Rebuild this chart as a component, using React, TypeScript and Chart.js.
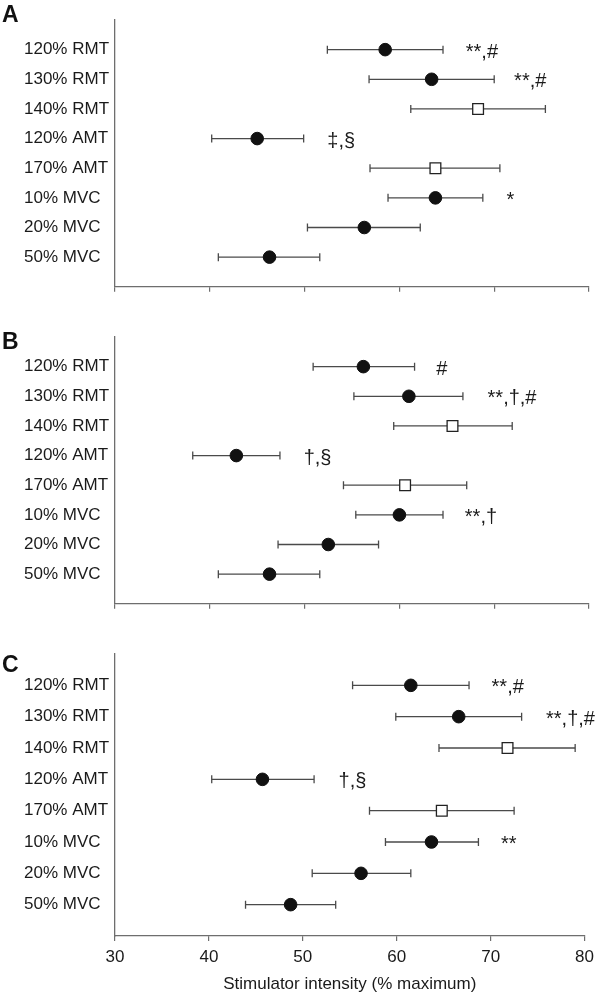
import React, { useEffect, useRef } from "react";
import { Chart, registerables } from "chart.js";

Chart.register(...registerables);

// ---------- data ----------
const categories = ["120% RMT", "130% RMT", "140% RMT", "120% AMT", "170% AMT", "10% MVC", "20% MVC", "50% MVC"];
const openSquareRows = [false, false, true, false, true, false, false, false];
const xTickValues = [30, 40, 50, 60, 70, 80];
const xTitle = "Stimulator intensity (% maximum)";
const panelLetters = ["A", "B", "C"];

const meanA = [58.5, 63.4, 68.3, 45.0, 63.8, 63.8, 56.3, 46.3];
const lowA = [52.4, 56.8, 61.2, 40.2, 56.9, 58.8, 50.3, 40.9];
const highA = [64.6, 70.0, 75.4, 49.9, 70.6, 68.8, 62.2, 51.6];
const noteTextA = ["**,#", "**,#", "‡,§", "*"];
const noteRowA = [0, 1, 3, 5];
const noteXA = [67.0, 72.1, 52.4, 71.3];

const meanB = [56.2, 61.0, 65.6, 42.8, 60.6, 60.0, 52.5, 46.3];
const lowB = [50.9, 55.2, 59.4, 38.2, 54.1, 55.4, 47.2, 40.9];
const highB = [61.6, 66.7, 71.9, 47.4, 67.1, 64.6, 57.8, 51.6];
const noteTextB = ["#", "**,†,#", "†,§", "**,†"];
const noteRowB = [0, 1, 3, 5];
const noteXB = [63.9, 69.3, 49.9, 66.9];

const meanC = [61.5, 66.6, 71.8, 45.7, 64.8, 63.7, 56.2, 48.7];
const lowC = [55.3, 59.9, 64.5, 40.3, 57.1, 58.8, 51.0, 43.9];
const highC = [67.7, 73.3, 79.0, 51.2, 72.5, 68.7, 61.5, 53.5];
const noteTextC = ["**,#", "**,†,#", "†,§", "**"];
const noteRowC = [0, 1, 3, 5];
const noteXC = [70.1, 75.9, 53.8, 71.1];

// ---------- styles ----------
const FONT = "'Liberation Sans', Arial, Helvetica, sans-serif";
const TEXT = "#1a1a1a";
const AXIS = "#6e6e6e";
const BAR = "#4a4a4a";

type PanelProps = {
  mean: number[];
  low: number[];
  high: number[];
  noteText: string[];
  noteRow: number[];
  noteX: number[];
  showX: boolean;
  top: number;
  height: number;
  padTop: number;
  axisH: number;
};

function Panel(p: PanelProps) {
  const ref = useRef<HTMLCanvasElement>(null);
  useEffect(() => {
    if (!ref.current) return;
    const rowY = (i: number) => i + 1;

    const errLines: any[] = categories.map((_, i) => ({
      type: "line",
      showLine: true,
      data: [
        { x: p.low[i], y: rowY(i) },
        { x: p.high[i], y: rowY(i) },
      ],
      borderColor: BAR,
      borderWidth: 1.3,
      pointRadius: 0,
      fill: false,
      order: 3,
    }));

    const caps: any = {
      type: "scatter",
      data: categories.flatMap((_, i) => [
        { x: p.low[i], y: rowY(i) },
        { x: p.high[i], y: rowY(i) },
      ]),
      pointStyle: "line",
      rotation: 90,
      pointRadius: 4,
      borderColor: BAR,
      borderWidth: 1.3,
      order: 2,
    };

    const circles: any = {
      type: "scatter",
      data: categories
        .map((_, i) => (openSquareRows[i] ? null : { x: p.mean[i], y: rowY(i) }))
        .filter((d) => d !== null),
      pointStyle: "circle",
      pointRadius: 6.3,
      backgroundColor: "#111",
      borderColor: "#111",
      borderWidth: 1,
      order: 1,
    };

    const squares: any = {
      type: "scatter",
      data: categories
        .map((_, i) => (openSquareRows[i] ? { x: p.mean[i], y: rowY(i) } : null))
        .filter((d) => d !== null),
      pointStyle: "rect",
      pointRadius: 7.6,
      backgroundColor: "#ffffff",
      borderColor: "#222",
      borderWidth: 1.3,
      order: 1,
    };

    const notesPlugin = {
      id: "notes",
      afterDatasetsDraw(chart: any) {
        const ctx = chart.ctx;
        const xs = chart.scales.x;
        const ys = chart.scales.y;
        ctx.save();
        ctx.fillStyle = TEXT;
        ctx.font = `20px ${FONT}`;
        ctx.textAlign = "left";
        ctx.textBaseline = "middle";
        p.noteText.forEach((t, k) => {
          const x = xs.getPixelForValue(p.noteX[k]);
          const y = ys.getPixelForValue(rowY(p.noteRow[k])) + 2.5;
          ctx.fillText(t, x, y);
        });
        ctx.restore();
      },
    };

    const chart = new Chart(ref.current, {
      type: "scatter",
      data: { datasets: [...errLines, caps, circles, squares] },
      options: {
        animation: false,
        responsive: false,
        devicePixelRatio: 1,
        layout: { padding: { top: p.padTop, left: 24, right: 11, bottom: 0 } },
        plugins: { legend: { display: false }, tooltip: { enabled: false } },
        scales: {
          x: {
            type: "linear",
            min: 30,
            max: 80,
            afterBuildTicks: (s: any) => {
              s.ticks = xTickValues.map((v) => ({ value: v }));
            },
            afterFit: (s: any) => {
              s.height = p.axisH;
            },
            ticks: {
              display: p.showX,
              font: { size: 17, family: FONT },
              color: TEXT,
              padding: 6,
              maxRotation: 0,
            },
            grid: {
              display: true,
              drawOnChartArea: false,
              drawTicks: true,
              tickLength: 5,
              color: AXIS,
              lineWidth: 1.2,
            },
            border: { display: true, color: AXIS, width: 1.3 },
            title: {
              display: p.showX,
              text: xTitle,
              font: { size: 17, family: FONT },
              color: TEXT,
              padding: { top: 2, bottom: 0 },
            },
          },
          y: {
            type: "linear",
            min: 0,
            max: 9,
            reverse: true,
            afterBuildTicks: (s: any) => {
              s.ticks = categories.map((_, i) => ({ value: rowY(i) }));
            },
            afterFit: (s: any) => {
              s.width = 91;
            },
            ticks: {
              autoSkip: false,
              crossAlign: "far",
              font: { size: 17, family: FONT },
              color: TEXT,
              callback: (v: any) => categories[Math.round(Number(v)) - 1] ?? "",
            },
            grid: { display: false },
            border: { display: true, color: AXIS, width: 1.3 },
          },
        },
      } as any,
      plugins: [notesPlugin],
    });
    return () => chart.destroy();
  }, []);

  return (
    <canvas
      ref={ref}
      width={600}
      height={p.height}
      style={{ position: "absolute", left: 0, top: p.top, width: 600, height: p.height, display: "block" }}
    />
  );
}

const letterStyle = (top: number): React.CSSProperties => ({
  position: "absolute",
  left: 2,
  top,
  font: `bold 23px ${FONT}`,
  lineHeight: "23px",
  color: "#111",
});

export default function App() {
  return (
    <div
      style={{
        position: "absolute",
        left: 0,
        top: 0,
        width: 600,
        height: 995,
        background: "#fff",
        overflow: "hidden",
      }}
    >
      <Panel mean={meanA} low={lowA} high={highA} noteText={noteTextA} noteRow={noteRowA} noteX={noteXA}
        showX={false} top={0} height={300} padTop={20} axisH={11} />
      <Panel mean={meanB} low={lowB} high={highB} noteText={noteTextB} noteRow={noteRowB} noteX={noteXB}
        showX={false} top={300} height={317} padTop={37} axisH={11} />
      <Panel mean={meanC} low={lowC} high={highC} noteText={noteTextC} noteRow={noteRowC} noteX={noteXC}
        showX={true} top={617} height={378} padTop={37} axisH={59} />
      <div style={letterStyle(3)}>{panelLetters[0]}</div>
      <div style={letterStyle(330)}>{panelLetters[1]}</div>
      <div style={letterStyle(653)}>{panelLetters[2]}</div>
    </div>
  );
}
